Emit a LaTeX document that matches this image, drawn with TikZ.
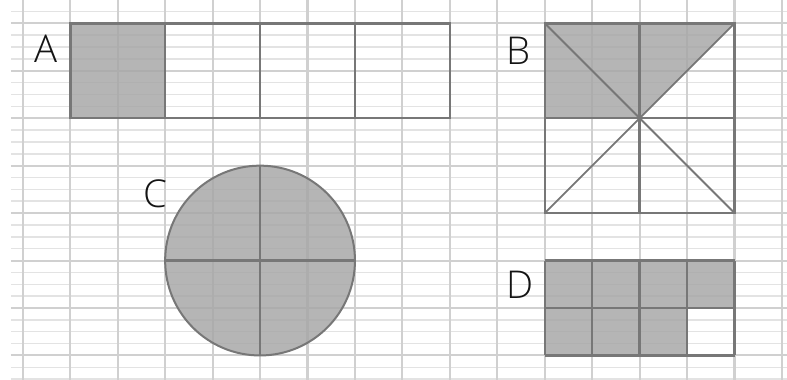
\documentclass[tikz,border=0pt]{standalone}
\usepackage{fontspec}
\setsansfont{Open Sans}[UprightFont={* Light}]
\definecolor{linhaforte}{HTML}{D0D0D0}
\definecolor{linhafraca}{HTML}{E3E3E3}
\definecolor{borda}{HTML}{777777}
\definecolor{sombra}{HTML}{A8A8A8}
\tikzset{
  rotulo/.style={font=\sffamily\fontsize{23}{28}\selectfont, text=black!92, inner sep=0pt},
  contorno/.style={draw=borda, line width=1.5pt},
  parte/.style={fill=sombra, fill opacity=0.85},
}
\begin{document}
\begin{tikzpicture}[x=1cm, y=1cm]
    \useasboundingbox (-0.4805,-7.517) rectangle (16.105,0.491);

    % Malha quadriculada: linhas finas a cada quarto, fortes a cada unidade.
    \foreach \y in {0,...,31} {
      \draw[linhafraca, line width=0.9pt] (-0.25,{0.25-0.25*\y}) -- (16.11,{0.25-0.25*\y});
    }
    \foreach \y in {0,...,7} {
      \draw[linhaforte, line width=1.2pt] (-0.25,-\y) -- (16.11,-\y);
    }
    \foreach \x in {0,...,16} {
      \draw[linhaforte, line width=1.3pt] (\x,0.5) -- (\x,-7.52);
    }

    % Figura A: retângulo em quatro partes, uma pintada.
    \fill[parte] (1,0) rectangle (3,-2);
    \draw[contorno] (1,0) rectangle (9,-2);
    \foreach \x in {3,5,7} {
      \draw[contorno] (\x,0) -- (\x,-2);
    }
    \node[rotulo] (rotA) at (0.49,-0.54) {A};

    % Figura B: quadrado em oito triângulos.
    \fill[parte] (11,0) -- (15,0) -- (13,-2) -- (11,-2) -- cycle;
    \draw[contorno] (11,0) rectangle (15,-4);
    \draw[contorno] (13,0) -- (13,-4) (11,-2) -- (15,-2);
    \draw[contorno, line width=1.1pt] (11,0) -- (15,-4) (11,-4) -- (15,0);
    \node[rotulo] (rotB) at (10.45,-0.57) {B};

    % Figura C: círculo inteiro pintado.
    \fill[parte] (5,-5) circle (2);
    \draw[contorno, line width=1.2pt] (5,-5) circle (2);
    \draw[contorno] (3,-5) -- (7,-5) (5,-3) -- (5,-7);
    \node[rotulo] (rotC) at (2.79,-3.59) {C};

    % Figura D: oito quadradinhos, sete pintados.
    \fill[parte] (11,-5) rectangle (15,-6) (11,-6) rectangle (14,-7);
    \draw[contorno] (11,-5) grid (15,-7);
    \node[rotulo] (rotD) at (10.47,-5.52) {D};
  \end{tikzpicture}
\end{document}
